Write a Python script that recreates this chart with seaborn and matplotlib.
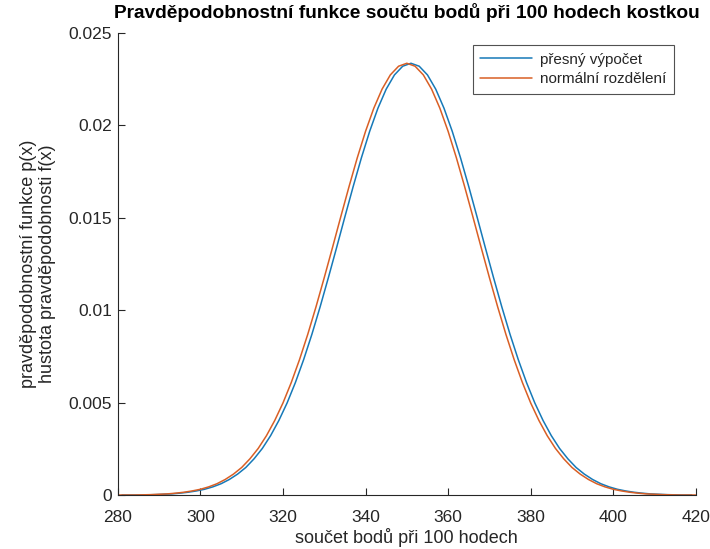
import numpy as np
import pandas as pd
import seaborn as sns
import matplotlib
matplotlib.use("Agg")
import matplotlib.pyplot as plt

# hodnoty (krok 2 bodů)
exact_x = list(range(281, 420, 2))
exact_p = [0.00001, 0.00001, 0.00001, 0.00002, 0.00003, 0.00005, 0.00007, 0.00011,
           0.00016, 0.00023, 0.00032, 0.00045, 0.00062, 0.00085, 0.00114, 0.00150,
           0.00197, 0.00253, 0.00322, 0.00404, 0.00499, 0.00609, 0.00733, 0.00870,
           0.01019, 0.01177, 0.01340, 0.01506, 0.01669, 0.01825, 0.01968, 0.02093,
           0.02196, 0.02273, 0.02320, 0.02336, 0.02320, 0.02273, 0.02196, 0.02093,
           0.01968, 0.01825, 0.01669, 0.01506, 0.01340, 0.01177, 0.01019, 0.00870,
           0.00733, 0.00609, 0.00499, 0.00404, 0.00322, 0.00253, 0.00197, 0.00150,
           0.00114, 0.00085, 0.00062, 0.00045, 0.00032, 0.00023, 0.00016, 0.00011,
           0.00007, 0.00005, 0.00003, 0.00002, 0.00001, 0.00001]

normal_x = list(range(280, 421, 2))
normal_f = [0.00001, 0.00001, 0.00001, 0.00002, 0.00003, 0.00005, 0.00007, 0.00011,
            0.00016, 0.00023, 0.00032, 0.00045, 0.00062, 0.00085, 0.00114, 0.00150,
            0.00197, 0.00253, 0.00322, 0.00404, 0.00499, 0.00609, 0.00733, 0.00870,
            0.01019, 0.01177, 0.01340, 0.01506, 0.01669, 0.01825, 0.01968, 0.02093,
            0.02196, 0.02273, 0.02320, 0.02336, 0.02320, 0.02273, 0.02196, 0.02093,
            0.01968, 0.01825, 0.01669, 0.01506, 0.01340, 0.01177, 0.01019, 0.00870,
            0.00733, 0.00609, 0.00499, 0.00404, 0.00322, 0.00253, 0.00197, 0.00150,
            0.00114, 0.00085, 0.00062, 0.00045, 0.00032, 0.00023, 0.00016, 0.00011,
            0.00007, 0.00005, 0.00003, 0.00002, 0.00001, 0.00001, 0.00001]

x_ticks = [280, 300, 320, 340, 360, 380, 400, 420]
y_ticks = [0, 0.005, 0.01, 0.015, 0.02, 0.025]
y_tick_labels = ["0", "0.005", "0.01", "0.015", "0.02", "0.025"]

sns.set_theme(style="white")
plt.rcParams["font.family"] = ["Liberation Sans", "DejaVu Sans"]
plt.rcParams["lines.solid_joinstyle"] = "round"

fig = plt.figure(figsize=(7.1, 5.49), dpi=100)
ax = fig.add_axes([0.166, 0.098, 0.814, 0.842])

exact = pd.DataFrame({"x": exact_x, "y": exact_p})
normal = pd.DataFrame({"x": normal_x, "y": normal_f})
sns.lineplot(data=exact, x="x", y="y", ax=ax, color="#1679B8", lw=1.1,
             label="přesný výpočet")
sns.lineplot(data=normal, x="x", y="y", ax=ax, color="#D95F25", lw=1.1,
             label="normální rozdělení")

ax.set_xlim(280, 420)
ax.set_ylim(0, 0.025)
ax.set_xticks(x_ticks)
ax.set_yticks(y_ticks)
ax.set_yticklabels(y_tick_labels)
ax.tick_params(direction="in", length=5, width=0.8, colors="#262626",
               labelsize=12.5, bottom=True, left=True, pad=4)
ax.tick_params(axis="x", pad=11)
for side in ["top", "right"]:
    ax.spines[side].set_visible(False)
for side in ["left", "bottom"]:
    ax.spines[side].set_color("#262626")
    ax.spines[side].set_linewidth(0.8)

ax.set_xlabel("součet bodů při 100 hodech", fontsize=13, color="#262626", labelpad=2)
ax.set_ylabel("pravděpodobnostní funkce p(x)\nhustota pravděpodobnosti f(x)",
              fontsize=13, color="#262626", labelpad=9)
ax.set_title("Pravděpodobnostní funkce součtu bodů při 100 hodech kostkou",
             fontsize=13.8, fontweight="bold", color="black", pad=11)

leg = ax.legend(loc="upper right", fontsize=11, frameon=True, fancybox=False,
                handlelength=3.4, handletextpad=0.5, borderpad=0.5,
                labelspacing=0.35, bbox_to_anchor=(0.975, 0.99))
leg.get_frame().set_edgecolor("#262626")
leg.get_frame().set_linewidth(0.8)

fig.savefig("out.png", dpi=100)
